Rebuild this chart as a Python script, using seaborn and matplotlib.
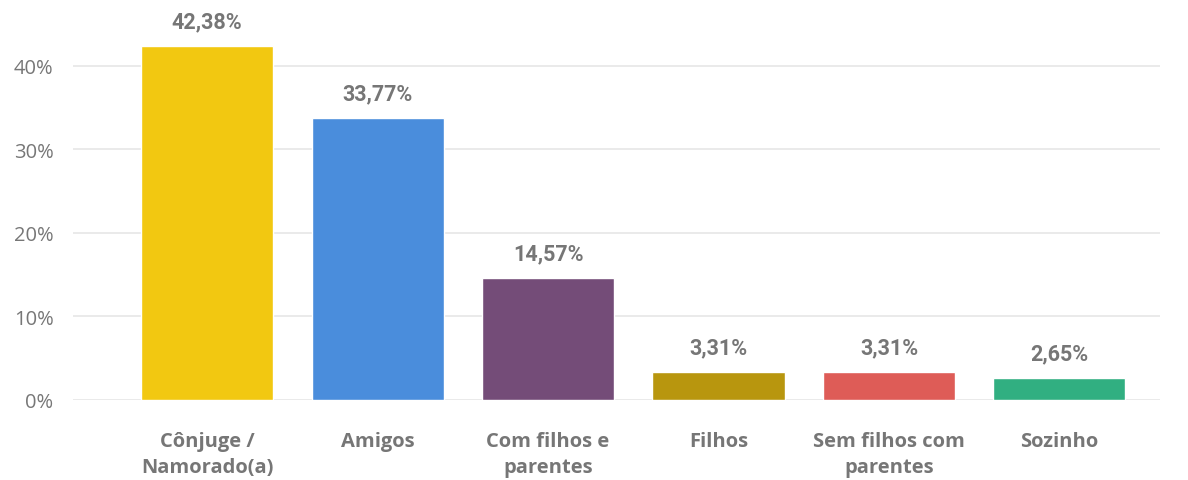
import matplotlib
matplotlib.use("Agg")
import matplotlib.pyplot as plt
import seaborn as sns
import pandas as pd

categories = ["Cônjuge /\nNamorado(a)", "Amigos", "Com filhos e\nparentes", "Filhos",
              "Sem filhos com\nparentes", "Sozinho"]
values = [42.38, 33.77, 14.57, 3.31, 3.31, 2.65]
colors = ["#F2C811", "#4A8DDC", "#744C78", "#B8960E", "#DE5C57", "#31AF81"]
yticks = [0, 10, 20, 30, 40]

sns.set_theme(style="white")
plt.rcParams["font.family"] = ["Open Sans", "DejaVu Sans"]

df = pd.DataFrame({"cat": categories, "val": values})
fig = plt.figure(figsize=(11.88, 4.81), dpi=100)
ax = fig.add_axes([73/1188, 1-401/481, (1160-73)/1188, (401-25)/481])
sns.barplot(data=df, x="cat", y="val", hue="cat", palette=colors, legend=False,
            width=0.775, saturation=1, ax=ax)
ax.set_xlim(-0.787, 5.59)
ax.set_ylim(0, 45)
ax.set_yticks(yticks)
ax.set_yticklabels([f"{t}%" for t in yticks], color="#777777", fontsize=14.5)
ax.yaxis.grid(True, color="#E6E6E6", linewidth=1.2)
ax.set_axisbelow(True)
for s in ax.spines.values():
    s.set_visible(False)
ax.tick_params(axis="y", length=0, pad=14)
ax.tick_params(axis="x", length=0, pad=22)
for lbl in ax.get_xticklabels():
    lbl.set_fontweight("bold")
    lbl.set_color("#767676")
    lbl.set_fontsize(14.5)
    lbl.set_linespacing(1.4)
    lbl.set_multialignment("center")
    lbl.set_verticalalignment("top")
ax.set_xlabel("")
ax.set_ylabel("")
for i, v in enumerate(values):
    ax.annotate(f"{v:.2f}%".replace(".", ","), (i, v), xytext=(0, 10),
                textcoords="offset points", ha="center", va="bottom",
                fontsize=15.5, fontweight="bold",
                family=["Roboto", "DejaVu Sans"], color="#767676")
fig.savefig("out.png", dpi=100)
